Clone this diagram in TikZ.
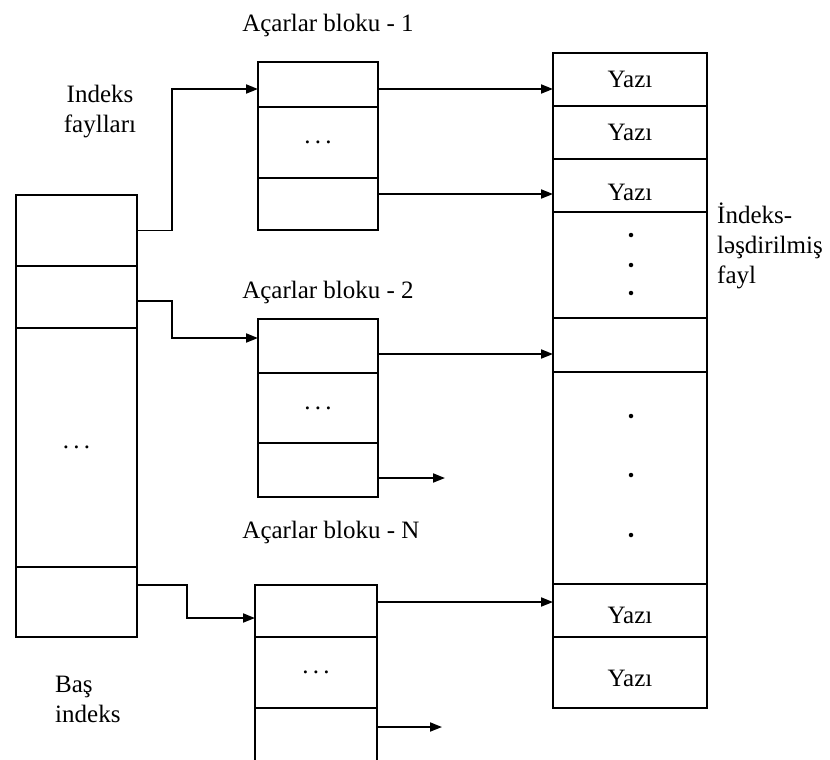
\documentclass[tikz,border=0pt]{standalone}
\usepackage{fontspec}
\setmainfont{Liberation Serif}
\usetikzlibrary{arrows.meta,calc}
\begin{document}
\begin{tikzpicture}[x=1pt,y=-1pt,
  cell/.style={draw,line width=2pt,inner sep=0pt,outer sep=0pt,anchor=north west,
    font=\fontsize{25}{30}\selectfont},
  lbl/.style={font=\fontsize{25}{30}\selectfont,inner sep=0pt},
  conn/.style={line width=1.8pt,-{Triangle[length=12pt,width=9pt]}},
  vdot/.style={circle,fill,inner sep=0pt,minimum size=4.5pt}
]
\useasboundingbox (0,0) rectangle (830,760);
\clip (0,0) rectangle (830,760);

% main index
\node[cell,minimum width=121pt,minimum height=71pt]  (m1) at (16,195) {};
\node[cell,minimum width=121pt,minimum height=62pt]  (m2) at (16,266) {};
\node[cell,minimum width=121pt,minimum height=239pt] (m3) at (16,328) {.\,.\,.};
\node[cell,minimum width=121pt,minimum height=70pt]  (m4) at (16,567) {};

% key block 1
\node[cell,minimum width=120pt,minimum height=45pt] (b11) at (258,62) {};
\node[cell,minimum width=120pt,minimum height=71pt] (b12) at (258,107) {.\,.\,.};
\node[cell,minimum width=120pt,minimum height=52pt] (b13) at (258,178) {};

% key block 2
\node[cell,minimum width=120pt,minimum height=54pt] (b21) at (258,319) {};
\node[cell,minimum width=120pt,minimum height=70pt] (b22) at (258,373) {.\,.\,.};
\node[cell,minimum width=120pt,minimum height=54pt] (b23) at (258,443) {};

% key block N
\node[cell,minimum width=122pt,minimum height=52pt] (bN1) at (255,585) {};
\node[cell,minimum width=122pt,minimum height=71pt] (bN2) at (255,637) {.\,.\,.};
\node[cell,minimum width=122pt,minimum height=70pt] (bN3) at (255,708) {};

% indexed file
\node[cell,minimum width=154pt,minimum height=53pt]  (r1) at (553,53) {Yazı};
\node[cell,minimum width=154pt,minimum height=53pt]  (r2) at (553,106) {Yazı};
\node[cell,minimum width=154pt,minimum height=53pt]  (r3) at (553,159) {};
\node[cell,minimum width=154pt,minimum height=106pt] (r4) at (553,212) {};
\node[cell,minimum width=154pt,minimum height=54pt]  (r5) at (553,318) {};
\node[cell,minimum width=154pt,minimum height=212pt] (r6) at (553,372) {};
\node[cell,minimum width=154pt,minimum height=53pt]  (r7) at (553,584) {};
\node[cell,minimum width=154pt,minimum height=71pt]  (r8) at (553,637) {};
\node[lbl] (t3) at ([yshift=-7pt]r3.center) {Yazı};
\node[lbl] (t7) at ([yshift=-5pt]r7.center) {Yazı};
\node[lbl] (t8) at ([yshift=-6pt]r8.center) {Yazı};

\node[vdot] (d1) at (631,235) {};
\node[vdot] (d2) at (631,265) {};
\node[vdot] (d3) at (631,293) {};
\node[vdot] (d4) at (631,416) {};
\node[vdot] (d5) at (631,475) {};
\node[vdot] (d6) at (631,535) {};

% labels
\node[lbl] (l1) at (328,25) {Açarlar bloku - 1};
\node[lbl] (l2) at (328,292) {Açarlar bloku - 2};
\node[lbl] (lN) at (331,532) {Açarlar bloku - N};
\node[lbl,align=center] (li) at (100,112) {Indeks\\faylları};
\node[lbl,align=left,anchor=west] (lb) at (55,699) {Baş\\indeks};
\node[lbl,align=left,anchor=west] (lf) at (717,246) {İndeks-\\ləşdirilmiş\\fayl};

% connector coordinates
\coordinate (a1) at ([yshift=-4.5pt]b11.west);
\coordinate (a1e) at ([yshift=-4.5pt]b11.east);
\coordinate (a3) at ([yshift=10pt]b13.east);
\coordinate (a2s) at ([yshift=-4pt]m2.east);
\coordinate (a2) at ([yshift=8pt]b21.west);
\coordinate (a2e) at ([yshift=-8pt]b21.east);
\coordinate (a23) at ([yshift=-8pt]b23.east);
\coordinate (f2) at ($(a23)+(67,0)$);
\coordinate (aNs) at ([yshift=17pt]m4.east);
\coordinate (aN) at ([yshift=-7pt]bN1.west);
\coordinate (aNe) at ([yshift=9pt]bN1.east);
\coordinate (aN3) at ([yshift=16pt]bN3.east);
\coordinate (fN) at ($(aN3)+(65,0)$);

% connectors
\draw[conn] (m1.east) -- ++(35,0) |- (a1);
\draw[conn] (a2s) -- ++(35,0) |- (a2);
\draw[conn] (aNs) -- ++(50,0) |- (aN);
\draw[conn] (a1e) -- (a1e -| r1.west);
\draw[conn] (a3) -- (a3 -| r3.west);
\draw[conn] (a2e) -- (a2e -| r5.west);
\draw[conn] (aNe) -- (aNe -| r7.west);
\draw[conn] (a23) -- (f2);
\draw[conn] (aN3) -- (fN);
\end{tikzpicture}
\end{document}
